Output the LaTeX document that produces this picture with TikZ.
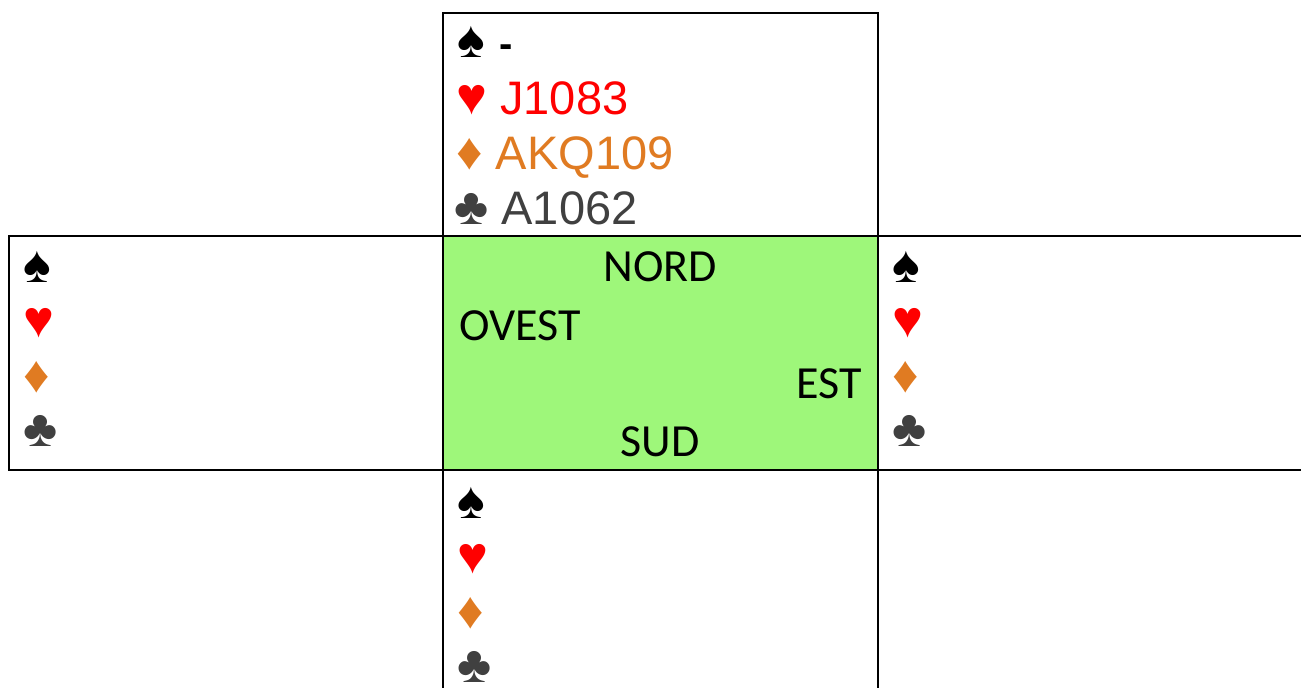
\documentclass[tikz,border=0pt]{standalone}
\usepackage{fontspec}
\usepackage{xcolor}
\usepackage{tikz}
\newfontfamily\cardfont{Liberation Sans}
\newfontfamily\seatfont{Carlito}
\definecolor{tapis}{HTML}{9EF77A}
\definecolor{cuori}{HTML}{FF0000}
\definecolor{quadri}{HTML}{E07B22}
\definecolor{fiori}{HTML}{404040}
\newcommand{\seme}[1]{{\fontsize{26}{26}\selectfont #1}}

\begin{document}
\begin{tikzpicture}[x=0.5pt, y=-0.5pt,
  cell/.style={draw, line width=1.3pt},
  hd/.style={anchor=base west, inner sep=0pt, font=\cardfont\fontsize{23.5}{23.5}\selectfont},
  su/.style={anchor=base west, inner sep=0pt, font=\cardfont\fontsize{26}{26}\selectfont},
  seat/.style={inner sep=0pt, font=\seatfont\fontsize{23}{23}\selectfont}
]
\useasboundingbox (0,0) rectangle (1301,688);
\clip (0,0) rectangle (1301,688);

% table
\fill[tapis] (443,236) rectangle (878,470);
\draw[cell] (443,13) rectangle (878,236);
\draw[cell] (9,236) rectangle (443,470);
\draw[cell] (443,236) rectangle (878,470);
\draw[cell] (878,236) rectangle (1320,470);
\draw[cell] (443,470) rectangle (878,710);

% nord
\node[su] (nS) at (457,58) {♠ {\fontsize{20}{20}\selectfont\bfseries -}};
\node[hd, text=cuori] (nH) at (456,115) {\seme{♥} J1083};
\node[hd, text=quadri] (nD) at (456,170) {\seme{♦} AKQ109};
\node[hd, text=fiori] (nC) at (454,225) {\seme{♣} A1062};

% ovest
\node[su] (oS) at (23,283) {♠};
\node[su, text=cuori] (oH) at (23,338) {♥};
\node[su, text=quadri] (oD) at (23,393) {♦};
\node[su, text=fiori] (oC) at (23,447) {♣};

% est
\node[su] (eS) at (892,283) {♠};
\node[su, text=cuori] (eH) at (892,338) {♥};
\node[su, text=quadri] (eD) at (892,393) {♦};
\node[su, text=fiori] (eC) at (892,447) {♣};

% sud
\node[su] (sS) at (457,519) {♠};
\node[su, text=cuori] (sH) at (457,574) {♥};
\node[su, text=quadri] (sD) at (457,629) {♦};
\node[su, text=fiori] (sC) at (457,683) {♣};

% seats
\node[seat, anchor=base] (nord) at (660,282) {NORD};
\node[seat, anchor=base west] (ovest) at (459,341) {OVEST};
\node[seat, anchor=base east] (est) at (862,399) {EST};
\node[seat, anchor=base] (sud) at (660,457) {SUD};
\end{tikzpicture}
\end{document}
